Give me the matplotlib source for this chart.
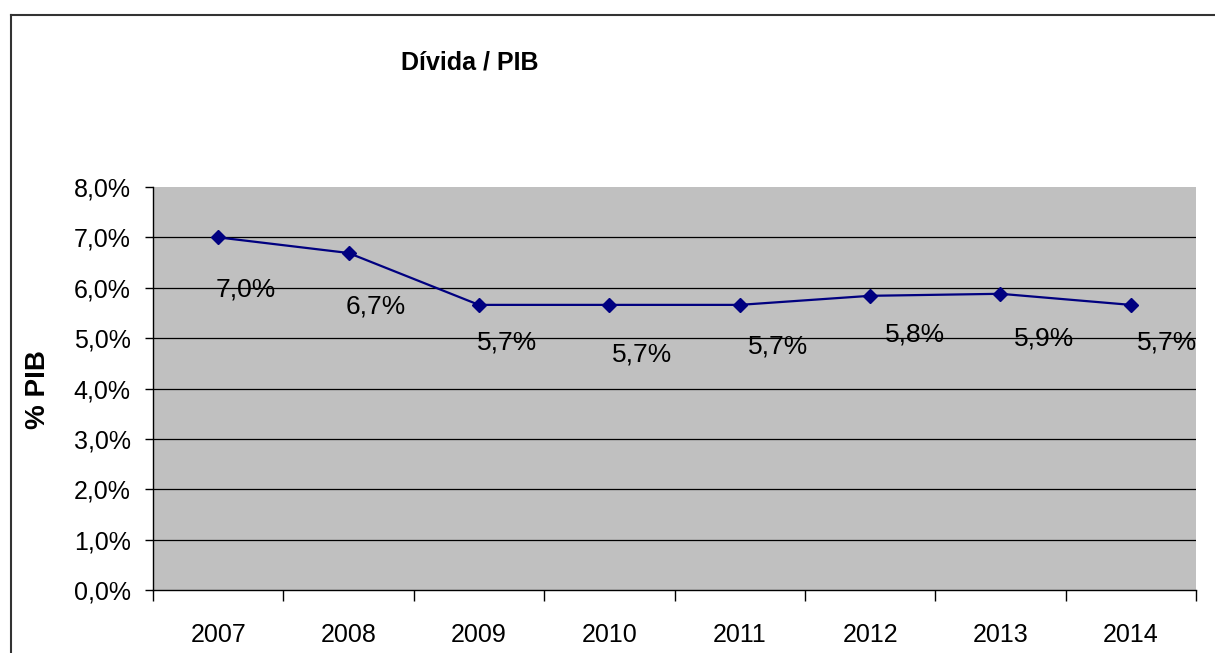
import numpy as np
import matplotlib.pyplot as plt
from matplotlib.lines import Line2D

plt.rcParams['font.family'] = ['Liberation Sans', 'DejaVu Sans']

anos = ['2007', '2008', '2009', '2010', '2011', '2012', '2013', '2014']
divida_pib = [7.0, 6.69, 5.66, 5.66, 5.66, 5.84, 5.88, 5.66]
rotulos = ['7,0%', '6,7%', '5,7%', '5,7%', '5,7%', '5,8%', '5,9%', '5,7%']
y_ticks = [0, 1, 2, 3, 4, 5, 6, 7, 8]

# deslocamento dos rotulos (pixels)
desloc = [(-3, -52), (-3, -54), (-2, -38), (3, -50), (8, -42), (15, -39), (14, -45), (6, -38)]

fig = plt.figure(figsize=(12.15, 6.53), dpi=100)
ax = fig.add_axes([153/1215, 1-590/653, (1196-153)/1215, (590-187)/653])
ax.set_facecolor('#C0C0C0')

x = np.arange(len(anos))
for t in y_ticks[1:-1]:
    ax.axhline(t, color='black', lw=0.9, zorder=1)
ax.plot(x, divida_pib, color='#000080', lw=1.6, marker='D', markersize=7.5, zorder=3)

for xi, yi, r, (dx, dy) in zip(x, divida_pib, rotulos, desloc):
    ax.annotate(r, (xi, yi), xytext=(dx, dy), textcoords='offset pixels',
                ha='left', va='center', fontsize=19, color='black', zorder=4)

ax.set_xlim(-0.5, len(anos) - 0.5)
ax.set_ylim(0, 8)
ax.set_yticks(y_ticks)
ax.set_yticklabels([f'{t:.1f}%'.replace('.', ',') for t in y_ticks], fontsize=18)
ax.set_xticks(np.arange(len(anos) + 1) - 0.5)
ax.set_xticklabels([])
ax.set_xticks(x, minor=True)
ax.set_xticklabels(anos, minor=True, fontsize=18)
ax.tick_params(axis='y', length=6, width=1, pad=10, direction='out')
ax.tick_params(axis='x', which='major', length=8, width=1, direction='out')
ax.tick_params(axis='x', which='minor', length=0, pad=24)

for s in ['top', 'right']:
    ax.spines[s].set_visible(False)
for s in ['left', 'bottom']:
    ax.spines[s].set_linewidth(1)

fig.text(470/1215, 1-62/653, 'Dívida / PIB', ha='center', va='center',
         fontsize=18, fontweight='bold')
fig.text(38/1215, 1-390/653, '% PIB', ha='center', va='center', rotation=90,
         fontsize=20, fontweight='bold')

# borda da figura
fig.add_artist(Line2D([11/1215, 11/1215], [0, 1-15/653], color='#333333', lw=1.5,
                      transform=fig.transFigure))
fig.add_artist(Line2D([11/1215, 1], [1-15/653, 1-15/653], color='#333333', lw=1.5,
                      transform=fig.transFigure))

fig.savefig('out.png', dpi=100)
